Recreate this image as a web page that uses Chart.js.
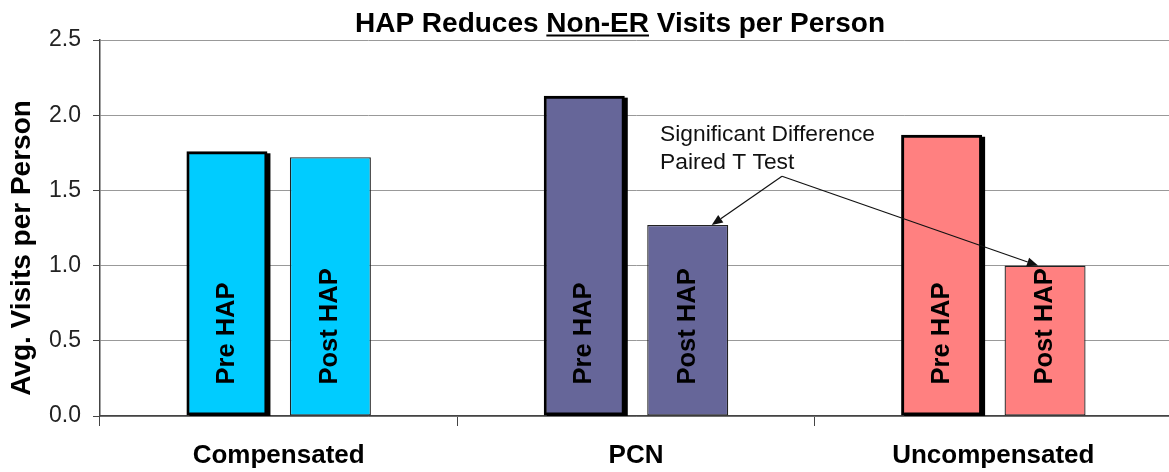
<!DOCTYPE html>
<html><head><meta charset="utf-8">
<script src="https://cdn.jsdelivr.net/npm/chart.js@4"></script>
<style>
html,body{margin:0;padding:0;background:#fff;overflow:hidden;}
#wrap{width:1169px;height:472px;overflow:hidden;position:relative;background:#fff;}
#c{display:block;}
</style></head><body>
<div id="wrap"><canvas id="c" width="1176" height="472"></canvas></div>
<script>
const categories = ['Compensated', 'PCN', 'Uncompensated'];
const seriesNames = ['Pre HAP', 'Post HAP'];
const preHAP = [1.76, 2.13, 1.87];
const postHAP = [1.72, 1.27, 1.00];
const yTicks = [0.0, 0.5, 1.0, 1.5, 2.0, 2.5];
const barColors = ['#00CCFF', '#666699', '#FF8080'];
const titleParts = [['HAP Reduces ', false], ['Non-ER', true], [' Visits per Person', false]];
const yTitle = 'Avg. Visits per Person';
const noteLines = ['Significant Difference', 'Paired T Test'];

const FONT = '"Liberation Sans", Arial, Helvetica, sans-serif';

function arrow(ctx, x1, y1, x2, y2) {
  const a = Math.atan2(y2 - y1, x2 - x1), L = 11, W = 4.5;
  const bx = x2 - L * Math.cos(a), by = y2 - L * Math.sin(a);
  ctx.beginPath(); ctx.moveTo(x1, y1); ctx.lineTo(bx, by); ctx.stroke();
  ctx.beginPath(); ctx.moveTo(x2, y2);
  ctx.lineTo(bx + W * Math.sin(a), by - W * Math.cos(a));
  ctx.lineTo(bx - W * Math.sin(a), by + W * Math.cos(a));
  ctx.closePath(); ctx.fill();
}

const decor = {
  id: 'decor',
  beforeDatasetsDraw(chart) {
    const ctx = chart.ctx, area = chart.chartArea;
    const meta = chart.getDatasetMeta(0);
    ctx.save();
    ctx.beginPath(); ctx.rect(area.left, 0, area.right - area.left + 10, area.bottom); ctx.clip();
    ctx.fillStyle = '#000';
    meta.data.forEach(bar => {
      const p = bar.getProps(['x', 'y', 'base', 'width'], true);
      ctx.fillRect(p.x - p.width / 2 + 3, p.y + 2, p.width, p.base - p.y);
    });
    ctx.restore();
  },
  afterDatasetsDraw(chart) {
    const ctx = chart.ctx, xs = chart.scales.x, ys = chart.scales.y;
    ctx.save();
    chart.data.datasets.forEach((ds, di) => {
      const meta = chart.getDatasetMeta(di);
      meta.data.forEach(bar => {
        const p = bar.getProps(['x', 'y', 'base'], true);
        ctx.save();
        ctx.translate(p.x, p.base - 31);
        ctx.rotate(-Math.PI / 2);
        ctx.textAlign = 'left'; ctx.textBaseline = 'middle';
        ctx.font = 'bold 25.5px ' + FONT; ctx.fillStyle = '#000';
        ctx.fillText(ds.label, 0, 0);
        ctx.restore();
      });
    });
    const pcnX = xs.getPixelForValue(1);
    ctx.font = '22.8px ' + FONT; ctx.fillStyle = '#111';
    ctx.textAlign = 'left'; ctx.textBaseline = 'middle';
    ctx.fillText(noteLines[0], pcnX + 24, ys.getPixelForValue(1.872));
    ctx.fillText(noteLines[1], pcnX + 24, ys.getPixelForValue(1.687));
    const sx = pcnX + 146, sy = ys.getPixelForValue(1.594);
    const post = chart.getDatasetMeta(1).data;
    ctx.strokeStyle = '#111'; ctx.lineWidth = 1.2;
    const b1 = post[1].getProps(['x', 'y'], true);
    const b2 = post[2].getProps(['x', 'y'], true);
    arrow(ctx, sx, sy, b1.x + 24, b1.y);
    arrow(ctx, sx, sy, b2.x - 7, b2.y);
    ctx.restore();
  },
  afterDraw(chart) {
    const ctx = chart.ctx;
    ctx.save();
    ctx.font = 'bold 28px ' + FONT; ctx.fillStyle = '#000';
    ctx.textBaseline = 'alphabetic'; ctx.textAlign = 'left';
    const full = titleParts.map(p => p[0]).join('');
    let tx = 620 - ctx.measureText(full).width / 2;
    for (const [t, u] of titleParts) {
      const w = ctx.measureText(t).width;
      ctx.fillText(t, tx, 32);
      if (u) ctx.fillRect(tx, 34.5, w, 2);
      tx += w;
    }
    ctx.save();
    ctx.translate(22, 248); ctx.rotate(-Math.PI / 2);
    ctx.textAlign = 'center'; ctx.textBaseline = 'middle';
    ctx.font = 'bold 28px ' + FONT;
    ctx.fillText(yTitle, 0, 0);
    ctx.restore();
    ctx.restore();
  }
};

const common = { categoryPercentage: 0.579, barPercentage: 0.783, borderSkipped: false,
  clip: { left: 10, right: 10, top: 10, bottom: 0 } };

new Chart(document.getElementById('c'), {
  type: 'bar',
  data: {
    labels: categories,
    datasets: [
      Object.assign({ label: seriesNames[0], data: preHAP, backgroundColor: barColors,
        borderColor: '#000', borderWidth: 3 }, common),
      Object.assign({ label: seriesNames[1], data: postHAP, backgroundColor: barColors,
        borderColor: '#222', borderWidth: 1.3 }, common)
    ]
  },
  options: {
    responsive: false, animation: false, devicePixelRatio: 1,
    layout: { padding: { top: 40, right: 4, bottom: 0, left: 0 } },
    plugins: { legend: { display: false }, title: { display: false }, tooltip: { enabled: false } },
    scales: {
      x: {
        type: 'category', offset: true,
        grid: { offset: true, drawOnChartArea: false, drawTicks: true, tickLength: 10, color: '#444', lineWidth: 1 },
        border: { display: true, color: '#444', width: 1.5 },
        ticks: { font: { family: FONT, size: 26, weight: 'bold' }, color: '#000', padding: 14, maxRotation: 0, autoSkip: false },
        afterFit(s) { s.height = 56; }
      },
      y: {
        min: 0, max: 2.5,
        afterBuildTicks(s) { s.ticks = yTicks.map(v => ({ value: v })); },
        grid: { color: '#999', lineWidth: 1, drawTicks: true, tickLength: 7, tickColor: '#444' },
        border: { display: true, color: '#444', width: 1.5 },
        ticks: { font: { family: FONT, size: 23 }, color: '#222', padding: 12, callback: v => Number(v).toFixed(1) },
        afterFit(s) { s.width = 100; }
      }
    }
  },
  plugins: [decor]
});
</script>
</body></html>
